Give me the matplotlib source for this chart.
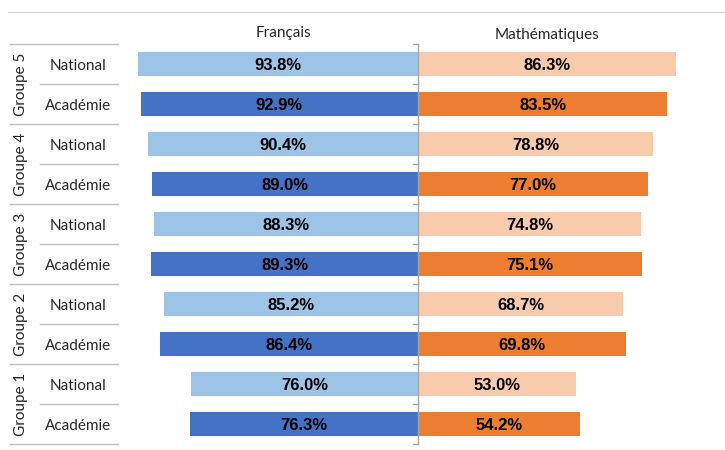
import matplotlib.pyplot as plt

# Data, top to bottom
groups = ['Groupe 5', 'Groupe 4', 'Groupe 3', 'Groupe 2', 'Groupe 1']
levels = ['National', 'Académie']
fr_national = [93.8, 90.4, 88.3, 85.2, 76.0]
fr_academie = [92.9, 89.0, 89.3, 86.4, 76.3]
ma_national = [86.3, 78.8, 74.8, 68.7, 53.0]
ma_academie = [83.5, 77.0, 75.1, 69.8, 54.2]

colors = {'fr_nat': '#9DC3E6', 'fr_aca': '#4472C4',
          'ma_nat': '#F8CBAD', 'ma_aca': '#ED7D31'}

W, H = 725, 450
CX = 418          # pixel of the central axis
SCALE = 2.985     # pixels per percent
ROW0 = 64         # pixel centre of first row
ROW_H = 40


def px(x):
    # pixel -> data x
    return (x - CX) / SCALE


def py(y):
    # pixel -> data y
    return (y - ROW0) / ROW_H


fig = plt.figure(figsize=(W / 100, H / 100), dpi=100)
ax = fig.add_axes([0, 0, 1, 1])
ax.set_xlim(px(0), px(W))
ax.set_ylim(py(H), py(0))
ax.axis('off')

label_font = ['Lato', 'DejaVu Sans']
value_font = ['Liberation Sans', 'DejaVu Sans']
text_dy = 2 / ROW_H

rows = []
for g in range(len(groups)):
    rows.append(('nat', g, fr_national[g], ma_national[g]))
    rows.append(('aca', g, fr_academie[g], ma_academie[g]))

bar_h = 24 / ROW_H
for i, (kind, g, fr, ma) in enumerate(rows):
    yc = i + 0.5 / ROW_H
    ax.barh(yc, -fr, height=bar_h, color=colors['fr_' + kind], zorder=2)
    ax.barh(yc, ma, height=bar_h, color=colors['ma_' + kind], zorder=2)
    ax.text(-fr / 2, i + text_dy, f'{fr:.1f}%', ha='center', va='center',
            fontsize=12, fontweight='bold', family=value_font, color='black', zorder=3)
    ax.text(ma / 2, i + text_dy, f'{ma:.1f}%', ha='center', va='center',
            fontsize=12, fontweight='bold', family=value_font, color='black', zorder=3)
    ax.text(px(78), i + text_dy, levels[0] if kind == 'nat' else levels[1], ha='center', va='center',
            fontsize=11, family=label_font, color='#262626')

# central axis with ticks
n = len(rows)
ax.plot([0, 0], [-0.5, n - 0.5], color='#A6A6A6', lw=1, zorder=4)
for k in range(n + 1):
    ax.plot([px(CX - 5), 0], [k - 0.5, k - 0.5], color='#A6A6A6', lw=1, zorder=4)

# table lines on the left
line_c = '#BFBFBF'
for g in range(len(groups) + 1):
    ax.plot([px(10), px(118)], [2 * g - 0.5, 2 * g - 0.5], color=line_c, lw=1)
for g in range(len(groups)):
    ax.plot([px(40), px(118)], [2 * g + 0.5, 2 * g + 0.5], color=line_c, lw=1)
    ax.text(px(21), 2 * g + 0.5, groups[g], rotation=90, ha='center', va='center',
            fontsize=11, family=label_font, color='#262626')

# headers
ax.text(px(283), py(33), 'Français', ha='center', va='center',
        fontsize=11, family=label_font, color='#262626')
ax.text(px(547), py(35), 'Mathématiques', ha='center', va='center',
        fontsize=11, family=label_font, color='#262626')

# separator line under the (cropped) title
ax.plot([px(8), px(W)], [py(12)] * 2, color='#D9D9D9', lw=1)

fig.savefig('out.png', dpi=100)
plt.close(fig)
